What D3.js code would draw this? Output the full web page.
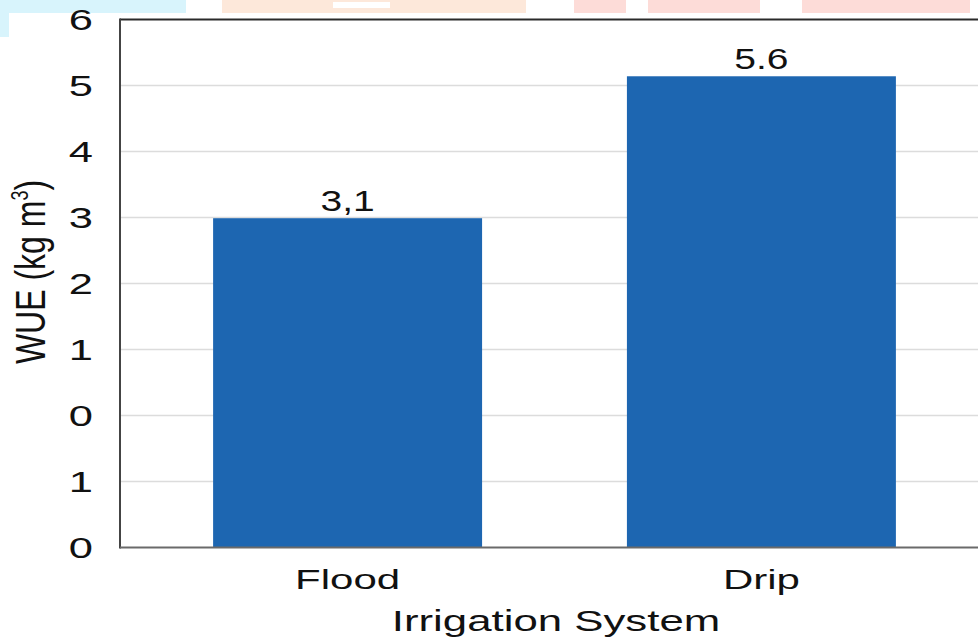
<!DOCTYPE html>
<html>
<head>
<meta charset="utf-8">
<script src="https://cdn.jsdelivr.net/npm/d3@7"></script>
<style>
  html, body { margin: 0; padding: 0; background: #fff; }
  svg { display: block; }
  text { font-family: "Liberation Sans", Arial, sans-serif; fill: #111; }
</style>
</head>
<body>
<svg id="chart" width="978" height="637"></svg>
<script>
// Irrigation systems compared
const categories = ["Flood", "Drip"];
// Water use efficiency per system (kg m-3)
const wueValues = [3.1, 5.6];
// Value labels as printed above each bar
const valueLabels = ["3,1", "5.6"];
// Y-axis tick labels, bottom to top
const tickLabels = ["0", "1", "0", "1", "2", "3", "4", "5", "6"];

const W = 978, H = 637;
const plot = { left: 120, top: 19.5, bottom: 547.5, right: 989 };
const stretch = 1.5; // horizontal stretch of the lettering

const svg = d3.select("#chart");

// Decorative banner strip along the top edge
const banner = [
  { x: 0, y: 0, w: 186, h: 13, c: "#d8f4fc" },
  { x: 0, y: 13, w: 9, h: 24, c: "#d8f4fc" },
  { x: 222, y: 0, w: 304, h: 13, c: "#fde8da" },
  { x: 333, y: 2, w: 57, h: 6, c: "#ffffff" },
  { x: 574, y: 0, w: 52, h: 13, c: "#fddcd8" },
  { x: 648, y: 0, w: 112, h: 13, c: "#fddcd8" },
  { x: 802, y: 0, w: 168, h: 13, c: "#fddcd8" }
];
svg.append("g").selectAll("rect").data(banner).join("rect")
  .attr("x", d => d.x).attr("y", d => d.y)
  .attr("width", d => d.w).attr("height", d => d.h)
  .attr("fill", d => d.c);

// Scales
const x = d3.scaleBand()
  .domain(categories)
  .range([plot.left, plot.right])
  .paddingInner(0.35)
  .paddingOuter(0.225);

const y = d3.scaleLinear()
  .domain([-2.70, 6.60])
  .range([plot.bottom, plot.top]);

const tickY = d3.scalePoint()
  .domain(d3.range(tickLabels.length))
  .range([plot.bottom, plot.top]);

// Gridlines
svg.append("g").selectAll("line")
  .data(d3.range(1, tickLabels.length - 1))
  .join("line")
  .attr("x1", plot.left).attr("x2", W)
  .attr("y1", d => tickY(d)).attr("y2", d => tickY(d))
  .attr("stroke", "#dcdcdc").attr("stroke-width", 1.5);

// Bars
svg.append("g").selectAll("rect")
  .data(categories)
  .join("rect")
  .attr("x", d => x(d))
  .attr("width", x.bandwidth())
  .attr("y", (d, i) => y(wueValues[i]))
  .attr("height", (d, i) => plot.bottom - y(wueValues[i]))
  .attr("fill", "#1d66b1");

// Frame lines
svg.append("line")
  .attr("x1", plot.left).attr("x2", W)
  .attr("y1", plot.top).attr("y2", plot.top)
  .attr("stroke", "#2a2a2a").attr("stroke-width", 2);
svg.append("line")
  .attr("x1", plot.left).attr("x2", plot.left)
  .attr("y1", plot.top - 1).attr("y2", plot.bottom + 1)
  .attr("stroke", "#444").attr("stroke-width", 2);
svg.append("line")
  .attr("x1", plot.left).attr("x2", W)
  .attr("y1", plot.bottom).attr("y2", plot.bottom)
  .attr("stroke", "#6a6a6a").attr("stroke-width", 2);

// Helper for stretched text anchored at (px, py)
function stretchedText(g, px, py, txt, size, anchor, sx) {
  return g.append("text")
    .attr("transform", `translate(${px},${py}) scale(${sx},1)`)
    .attr("text-anchor", anchor)
    .attr("font-size", size)
    .text(txt);
}

// Y tick labels
const yTicks = svg.append("g");
tickLabels.forEach((t, i) => {
  stretchedText(yTicks, 93, tickY(i) + 10.5, t, 29, "end", stretch);
});

// Value labels
const vals = svg.append("g");
categories.forEach((c, i) => {
  stretchedText(vals, x(c) + x.bandwidth() / 2, y(wueValues[i]) - 7, valueLabels[i], 30, "middle", 1.3);
});

// X tick labels
const xTicks = svg.append("g");
categories.forEach(c => {
  stretchedText(xTicks, x(c) + x.bandwidth() / 2, 589, c, 28, "middle", stretch);
});

// X axis title
stretchedText(svg.append("g"), 556, 631, "Irrigation System", 30, "middle", 1.46);

// Y axis title
const yt = svg.append("text")
  .attr("transform", "translate(45,272) scale(1.3,1) rotate(-90)")
  .attr("text-anchor", "middle")
  .attr("font-size", 32);
yt.append("tspan").text("WUE (kg m");
yt.append("tspan").attr("font-size", 18).attr("dy", -13).text("3");
yt.append("tspan").attr("dy", 13).text(")");
</script>
</body>
</html>
